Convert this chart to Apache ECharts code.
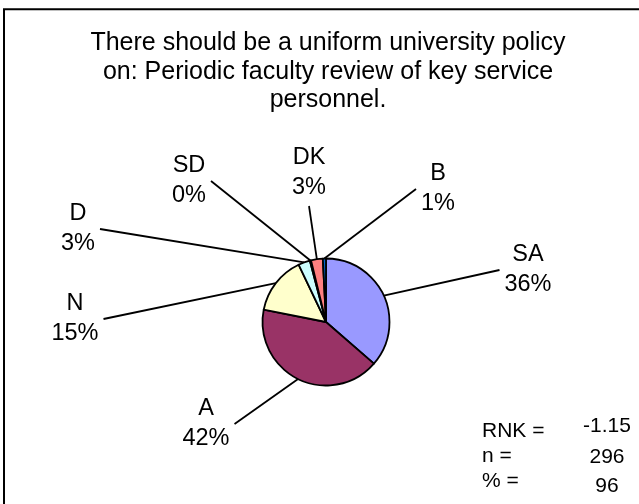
<!DOCTYPE html>
<html><head><meta charset="utf-8">
<script src="https://cdn.jsdelivr.net/npm/echarts@6/dist/echarts.min.js"></script>
<style>html,body{margin:0;padding:0;background:#fff}#c{width:639px;height:504px}</style>
</head><body><div id="c"></div>
<script>
// ---- data ----
const categories = ['SA', 'A', 'N', 'D', 'SD', 'DK', 'B'];
const values = [36.4, 41.7, 14.8, 3.0, 0.3, 3.0, 0.8];
const titleLines = ['There should be a uniform university policy', 'on: Periodic faculty review of key service', 'personnel.'];
const statNames = ['RNK =', 'n =', '% ='];
const statValues = ['-1.15', '296', '96'];

// ---- styles / layout ----
const colors = ['#9999FF', '#993366', '#FFFFCC', '#CCFFFF', '#660066', '#FF8080', '#0066CC'];
const FONT = '"Liberation Sans", Arial, sans-serif';
const labelPos = [
  {x: 528, y: 270, side: 'l'},
  {x: 206, y: 424, side: 'r'},
  {x: 75, y: 319, side: 'r'},
  {x: 78, y: 229, side: 'r'},
  {x: 189, y: 181, side: 'r'},
  {x: 309, y: 173, side: 'b'},
  {x: 438, y: 189, side: 'l'}
];
const statNameY = [431, 456, 481];
const statValueY = [426, 457, 486];

const chart = echarts.init(document.getElementById('c'), null, {renderer: 'canvas'});

const graphics = [
  {type: 'rect', silent: true, shape: {x: 4, y: 9.3, width: 700, height: 600},
   style: {fill: 'none', stroke: '#000', lineWidth: 2}},
  {type: 'text', silent: true, x: 328, y: 72,
   style: {text: titleLines.join('\n'), align: 'center', verticalAlign: 'middle',
           fontSize: 25, lineHeight: 28.5, fontFamily: FONT, fill: '#000'}}
];
statNames.forEach((s, i) => {
  graphics.push({type: 'text', silent: true, x: 482, y: statNameY[i],
    style: {text: s, align: 'left', verticalAlign: 'middle', fontSize: 21, fontFamily: FONT, fill: '#000'}});
  graphics.push({type: 'text', silent: true, x: 607, y: statValueY[i],
    style: {text: statValues[i], align: 'center', verticalAlign: 'middle', fontSize: 21, fontFamily: FONT, fill: '#000'}});
});

chart.setOption({
  animation: false,
  graphic: graphics,
  series: [{
    type: 'pie',
    center: [326, 322],
    radius: 63.5,
    startAngle: 90,
    clockwise: true,
    avoidLabelOverlap: false,
    emphasis: {disabled: true},
    data: categories.map((n, i) => ({name: n, value: values[i], itemStyle: {color: colors[i]}})),
    itemStyle: {borderColor: '#000', borderWidth: 1.8},
    label: {
      show: true, position: 'outside',
      formatter: p => p.name + '\n' + Math.round(p.value) + '%',
      fontSize: 23.5, lineHeight: 30, color: '#000', fontFamily: FONT, align: 'center'
    },
    labelLine: {show: true, length: 10, length2: 10, smooth: false,
                lineStyle: {color: '#000', width: 1.8}},
    labelLayout: function (params) {
      const p = labelPos[params.dataIndex];
      const w = params.labelRect.width, h = params.labelRect.height;
      let end;
      if (p.side === 'l') end = [p.x - w / 2 - 5, p.y];
      else if (p.side === 'r') end = [p.x + w / 2 + 5, p.y];
      else end = [p.x, p.y + h / 2 + 3];
      const start = params.labelLinePoints ? params.labelLinePoints[0] : end;
      return {x: p.x, y: p.y, align: 'center', verticalAlign: 'middle',
              labelLinePoints: [start, end, end]};
    }
  }]
});
</script></body></html>
